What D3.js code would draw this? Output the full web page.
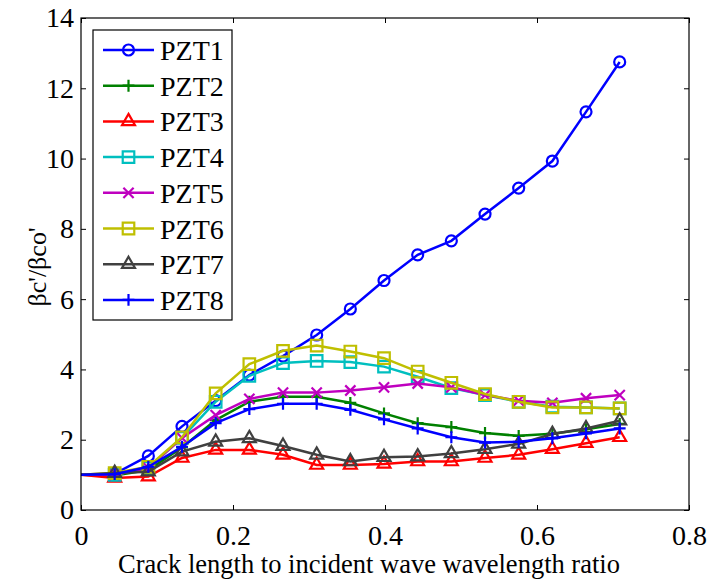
<!DOCTYPE html>
<html>
<head>
<meta charset="utf-8">
<script src="https://cdn.jsdelivr.net/npm/d3@7"></script>
<style>
  body { margin: 0; background: #fff; }
  svg text { font-family: "Liberation Serif", "Times New Roman", Times, "DejaVu Serif", serif; fill: #000; }
</style>
</head>
<body>
<div id="chart"></div>
<script>
// crack length / wavelength ratio (same for every sensor)
var ratio = [0, 0.0443, 0.0886, 0.1329, 0.1772, 0.2215, 0.2658, 0.3101, 0.3544,
             0.3987, 0.443, 0.4873, 0.5316, 0.5759, 0.6202, 0.6645, 0.7088];

var pzt1 = [1, 1.03, 1.54, 2.38, 3.11, 3.84, 4.38, 4.98, 5.72, 6.53, 7.26, 7.66, 8.42, 9.16, 9.93, 11.33, 12.75];
var pzt2 = [1, 0.98, 1.14, 1.78, 2.56, 3.08, 3.22, 3.22, 3.05, 2.75, 2.47, 2.36, 2.19, 2.11, 2.17, 2.30, 2.45];
var pzt3 = [1, 0.91, 0.95, 1.48, 1.71, 1.71, 1.57, 1.28, 1.28, 1.31, 1.38, 1.38, 1.48, 1.57, 1.73, 1.90, 2.07];
var pzt4 = [1, 1.0, 1.2, 2.05, 3.08, 3.82, 4.18, 4.24, 4.21, 4.08, 3.79, 3.47, 3.27, 3.08, 2.94, 2.92, 2.89];
var pzt5 = [1, 1.0, 1.2, 2.05, 2.70, 3.16, 3.34, 3.34, 3.40, 3.49, 3.60, 3.49, 3.27, 3.11, 3.05, 3.18, 3.27];
var pzt6 = [1, 1.05, 1.23, 2.07, 3.32, 4.15, 4.53, 4.68, 4.51, 4.32, 3.94, 3.62, 3.30, 3.08, 2.92, 2.92, 2.89];
var pzt7 = [1, 1.05, 1.09, 1.66, 1.94, 2.04, 1.82, 1.57, 1.38, 1.50, 1.52, 1.61, 1.73, 1.88, 2.16, 2.32, 2.54];
var pzt8 = [1, 1.02, 1.23, 1.80, 2.47, 2.87, 3.02, 3.02, 2.85, 2.58, 2.32, 2.07, 1.92, 1.94, 2.04, 2.18, 2.32];

var seriesNames = ["PZT1", "PZT2", "PZT3", "PZT4", "PZT5", "PZT6", "PZT7", "PZT8"];
var seriesValues = [pzt1, pzt2, pzt3, pzt4, pzt5, pzt6, pzt7, pzt8];

var xTicks = [0, 0.2, 0.4, 0.6, 0.8];
var yTicks = [0, 2, 4, 6, 8, 10, 12, 14];

var colors = ["#0000ff", "#008000", "#ff0000", "#00bfbf", "#bf00bf", "#bfbf00", "#404040", "#0000ff"];
var symbols = [
  { type: d3.symbolCircle, size: 95 },
  { type: d3.symbolPlus, size: 48 },
  { type: d3.symbolTriangle2, size: 120 },
  { type: d3.symbolSquare2, size: 170 },
  { type: d3.symbolTimes, size: 70 },
  { type: d3.symbolSquare2, size: 170 },
  { type: d3.symbolTriangle2, size: 120 },
  { type: d3.symbolPlus, size: 48 }
];

var serif = "'Liberation Serif', 'Times New Roman', Times, 'DejaVu Serif', serif";

var svgWidth = 713;
var svgHeight = 584;
var margin = { top: 18, right: 24, bottom: 74, left: 81 };
var width = svgWidth - margin.left - margin.right;
var height = svgHeight - margin.top - margin.bottom;

var svg = d3.select("#chart")
    .append("svg")
    .attr("width", svgWidth)
    .attr("height", svgHeight);

var chartGroup = svg.append("g")
    .attr("transform", `translate(${margin.left}, ${margin.top})`);

var xScale = d3.scaleLinear().domain([0, 0.8]).range([0, width]);
var yScale = d3.scaleLinear().domain([0, 14]).range([height, 0]);

// lines
var line = d3.line()
    .x((d, i) => xScale(ratio[i]))
    .y(d => yScale(d));

seriesValues.forEach(function(vals, s) {
  var g = chartGroup.append("g");
  g.append("path")
    .attr("d", line(vals))
    .attr("fill", "none")
    .attr("stroke", colors[s])
    .attr("stroke-width", 2.5);

  var sym = d3.symbol().type(symbols[s].type).size(symbols[s].size);
  g.selectAll("path.mark")
    .data(vals.slice(1))
    .enter()
    .append("path")
    .attr("class", "mark")
    .attr("d", sym)
    .attr("transform", (d, i) => `translate(${xScale(ratio[i + 1])}, ${yScale(d)})`)
    .attr("fill", "none")
    .attr("stroke", colors[s])
    .attr("stroke-width", 2.2);
});

// axes box with inward ticks on all sides
chartGroup.append("rect")
  .attr("width", width)
  .attr("height", height)
  .attr("fill", "none")
  .attr("stroke", "#000")
  .attr("stroke-width", 1.2);

var bottomAxis = d3.axisBottom(xScale).tickValues(xTicks).tickSize(-5).tickSizeOuter(0)
    .tickFormat(d => d === 0 ? "0" : d3.format(".1f")(d)).tickPadding(15);
var topAxis = d3.axisTop(xScale).tickValues(xTicks).tickSize(-5).tickSizeOuter(0).tickFormat("");
var leftAxis = d3.axisLeft(yScale).tickValues(yTicks).tickSize(-5).tickSizeOuter(0).tickPadding(7);
var rightAxis = d3.axisRight(yScale).tickValues(yTicks).tickSize(-5).tickSizeOuter(0).tickFormat("");

var gb = chartGroup.append("g").attr("transform", `translate(0, ${height})`).call(bottomAxis);
var gt = chartGroup.append("g").call(topAxis);
var gl = chartGroup.append("g").call(leftAxis);
var gr = chartGroup.append("g").attr("transform", `translate(${width}, 0)`).call(rightAxis);

[gb, gt, gl, gr].forEach(function(g) {
  g.attr("font-family", serif).attr("font-size", 28);
  g.select(".domain").remove();
  g.selectAll(".tick line").attr("stroke", "#000");
  g.selectAll(".tick text").attr("fill", "#000");
});

// legend
var legend = chartGroup.append("g").attr("transform", "translate(12, 12)");
legend.append("rect")
  .attr("width", 139)
  .attr("height", 290)
  .attr("fill", "#fff")
  .attr("stroke", "#000")
  .attr("stroke-width", 1.2);

seriesNames.forEach(function(name, s) {
  var yy = 20 + s * 35.7;
  var item = legend.append("g").attr("transform", `translate(0, ${yy})`);
  item.append("line")
    .attr("x1", 10).attr("x2", 61)
    .attr("stroke", colors[s]).attr("stroke-width", 2.5);
  item.append("path")
    .attr("d", d3.symbol().type(symbols[s].type).size(symbols[s].size))
    .attr("transform", "translate(35.5, 0)")
    .attr("fill", "none")
    .attr("stroke", colors[s])
    .attr("stroke-width", 2.2);
  item.append("text")
    .attr("x", 67)
    .attr("y", 10)
    .attr("font-family", serif)
    .attr("font-size", 28)
    .text(name);
});

// axis labels
svg.append("text")
  .attr("transform", `translate(369, ${svgHeight - 11})`)
  .attr("text-anchor", "middle")
  .attr("font-family", serif)
  .attr("font-size", 26.5)
  .text("Crack length to incident wave wavelength ratio");

svg.append("text")
  .attr("transform", `translate(46, ${margin.top + height / 2 + 3}) rotate(-90)`)
  .attr("text-anchor", "middle")
  .attr("font-family", serif)
  .attr("font-size", 26)
  .text("βc'/βco'");
</script>
</body>
</html>
